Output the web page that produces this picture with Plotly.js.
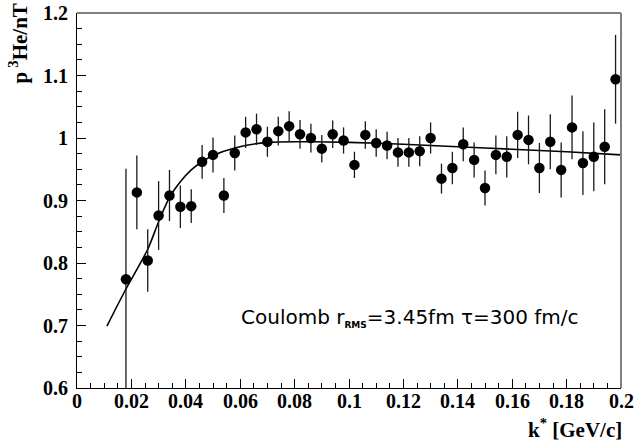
<!DOCTYPE html>
<html>
<head>
<meta charset="utf-8">
<script src="https://cdn.plot.ly/plotly-3.0.1.min.js"></script>
<style>
html,body{margin:0;padding:0;background:#fff;}
#chart{width:637px;height:443px;}
</style>
</head>
<body>
<div id="chart"></div>
<script>
const kstar = [0.018,0.022,0.026,0.030,0.034,0.038,0.042,0.046,0.050,0.054,
               0.058,0.062,0.066,0.070,0.074,0.078,0.082,0.086,0.090,0.094,
               0.098,0.102,0.106,0.110,0.114,0.118,0.122,0.126,0.130,0.134,
               0.138,0.142,0.146,0.150,0.154,0.158,0.162,0.166,0.170,0.174,
               0.178,0.182,0.186,0.190,0.194,0.198];
const cf = [0.774,0.913,0.804,0.876,0.908,0.890,0.891,0.962,0.973,0.908,
            0.976,1.009,1.014,0.994,1.011,1.019,1.006,1.000,0.983,1.006,
            0.996,0.957,1.005,0.992,0.988,0.977,0.977,0.979,1.000,0.935,
            0.952,0.990,0.965,0.920,0.973,0.970,1.005,0.997,0.952,0.994,
            0.949,1.017,0.960,0.970,0.986,1.094];
const cfErr = [0.177,0.059,0.050,0.055,0.041,0.034,0.027,0.027,0.028,0.028,
               0.028,0.025,0.025,0.024,0.023,0.024,0.023,0.023,0.022,0.022,
               0.021,0.021,0.022,0.022,0.022,0.023,0.023,0.024,0.025,0.024,
               0.026,0.027,0.028,0.028,0.031,0.033,0.037,0.039,0.040,0.044,
               0.044,0.051,0.051,0.055,0.060,0.071];
const fitK  = [0.011,0.0177,0.026,0.030,0.034,0.038,0.042,0.046,0.050,0.058,0.070,0.086,0.100,0.120,0.140,0.160,0.180,0.200];
const fitCF = [0.699,0.756,0.822,0.866,0.905,0.930,0.949,0.962,0.972,0.984,0.993,0.994,0.993,0.990,0.986,0.982,0.978,0.973];

const xTickVals = [0,0.02,0.04,0.06,0.08,0.1,0.12,0.14,0.16,0.18,0.2];
const xTickText = ['0','0.02','0.04','0.06','0.08','0.1','0.12','0.14','0.16','0.18','0.2'];
const yTickVals = [0.6,0.7,0.8,0.9,1.0,1.1,1.2];
const yTickText = ['0.6','0.7','0.8','0.9','1','1.1','1.2'];

const serif = 'Liberation Serif';
const tickFont = {family: serif, size: 20, color: '#000', weight: 700};

const traces = [
  {
    x: fitK, y: fitCF, type: 'scatter', mode: 'lines',
    line: {color: '#000', width: 1.6, shape: 'spline', smoothing: 0.8},
    hoverinfo: 'skip', showlegend: false
  },
  {
    x: kstar, y: cf, type: 'scatter', mode: 'markers',
    marker: {color: '#000', size: 10.5, symbol: 'circle'},
    error_y: {type: 'data', array: cfErr, visible: true, color: '#1a1a1a', thickness: 1.3, width: 0},
    showlegend: false
  }
];

// bold tick labels placed through the axes' own scales
const tickAnnots = [];
xTickVals.forEach((v, i) => tickAnnots.push({
  text: '<b>' + xTickText[i] + '</b>', xref: 'x', yref: 'paper', x: v, y: -0.035,
  xanchor: 'center', yanchor: 'middle', showarrow: false, font: tickFont
}));
yTickVals.forEach((v, i) => tickAnnots.push({
  text: '<b>' + yTickText[i] + '</b>', xref: 'paper', yref: 'y', x: -0.013, y: v,
  xanchor: 'right', yanchor: 'middle', showarrow: false, font: tickFont
}));

const layout = {
  width: 637, height: 443,
  margin: {l: 77, r: 16, t: 13, b: 55},
  paper_bgcolor: '#fff', plot_bgcolor: '#fff',
  showlegend: false,
  font: {family: serif, color: '#000'},
  xaxis: {
    range: [0, 0.2], tickmode: 'array', tickvals: xTickVals, showticklabels: false,
    ticks: 'inside', ticklen: 9, tickwidth: 1, tickcolor: '#000',
    minor: {dtick: 0.005, ticks: 'inside', ticklen: 5, tickwidth: 1, tickcolor: '#000', showgrid: false},
    showline: true, linecolor: '#000', linewidth: 1, mirror: false,
    showgrid: false, zeroline: false
  },
  yaxis: {
    range: [0.6, 1.2], tickmode: 'array', tickvals: yTickVals, showticklabels: false,
    ticks: 'inside', ticklen: 9, tickwidth: 1, tickcolor: '#000',
    minor: {dtick: 0.025, ticks: 'inside', ticklen: 5, tickwidth: 1, tickcolor: '#000', showgrid: false},
    showline: true, linecolor: '#000', linewidth: 1, mirror: false,
    showgrid: false, zeroline: false
  },
  shapes: [
    {type: 'line', xref: 'paper', yref: 'paper', x0: 0, x1: 1, y0: 1, y1: 1, line: {color: '#000', width: 1}},
    {type: 'line', xref: 'paper', yref: 'paper', x0: 1, x1: 1, y0: 0, y1: 1, line: {color: '#808080', width: 2}}
  ],
  annotations: tickAnnots.concat([
    {
      text: '<b>p\u2009<sup>3</sup>He/nT</b>', xref: 'paper', yref: 'paper',
      x: -0.107, y: 1.03, xanchor: 'center', yanchor: 'top', textangle: -90, showarrow: false,
      font: {family: serif, size: 21, color: '#000', weight: 700}
    },
    {
      text: '<b>k<sup>*</sup> [GeV/c]</b>', xref: 'paper', yref: 'paper',
      x: 1.006, y: -0.107, xanchor: 'right', yanchor: 'middle', showarrow: false,
      font: {family: serif, size: 21, color: '#000', weight: 700}
    },
    {
      text: 'Coulomb r<sub><span style="font-size:9px;font-weight:bold">RMS</span></sub>=3.45fm \u03c4=300 fm/c',
      xref: 'paper', yref: 'paper', x: 0.298, y: 0.187, xanchor: 'left', yanchor: 'middle', showarrow: false,
      font: {family: 'DejaVu Sans', size: 20, color: '#000', weight: 400}
    }
  ])
};

Plotly.newPlot('chart', traces, layout, {displayModeBar: false, staticPlot: true});
</script>
</body>
</html>
